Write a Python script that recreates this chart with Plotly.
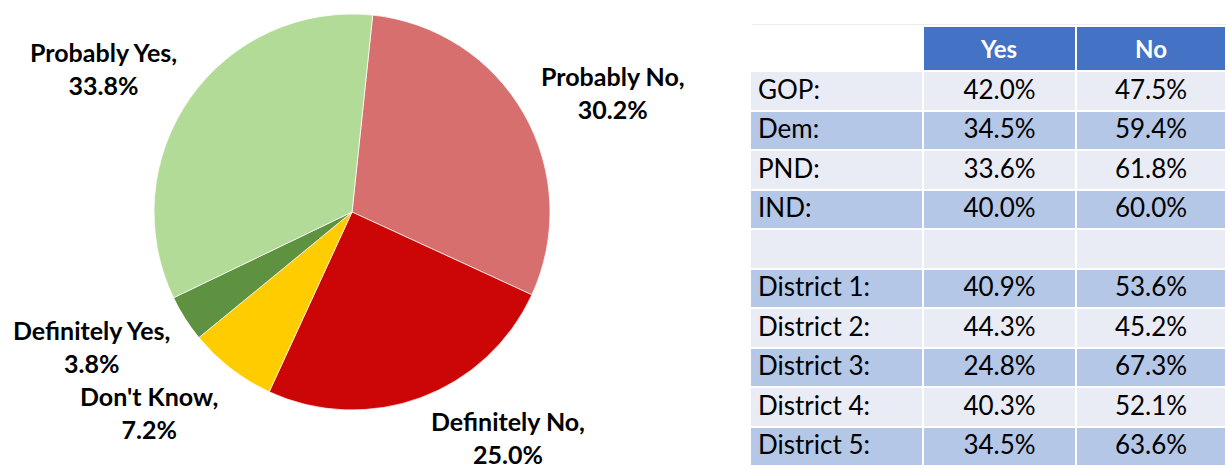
import plotly.graph_objects as go

# ---- data ----
pie_labels = ["Probably No", "Definitely No", "Don't Know", "Definitely Yes", "Probably Yes"]
pie_values = [30.2, 25.0, 7.2, 3.8, 33.8]

row_labels = ["GOP:", "Dem:", "PND:", "IND:", "", "District 1:", "District 2:",
              "District 3:", "District 4:", "District 5:"]
yes_values = [42.0, 34.5, 33.6, 40.0, None, 40.9, 44.3, 24.8, 40.3, 34.5]
no_values = [47.5, 59.4, 61.8, 60.0, None, 53.6, 45.2, 67.3, 52.1, 63.6]
col_headers = ["", "Yes", "No"]

# ---- styles ----
W, H = 1226, 469
pie_colors = ["#D86F6F", "#CC0606", "#FFCC00", "#5E9140", "#B3DB98"]
label_px = [(613, 92), (508, 437), (149, 412), (91, 346), (103, 68)]  # label centres (px)
light, mid = "#E9EBF5", "#B4C7E7"
row_fill = [light if i % 2 == 0 else mid for i in range(len(row_labels))]

def fmt(v):
    return "" if v is None else f"{v:.1f}%"

fig = go.Figure()
fig.add_trace(go.Pie(
    labels=pie_labels, values=pie_values, sort=False, direction="clockwise",
    rotation=6, textinfo="none", hoverinfo="label+percent",
    marker=dict(colors=pie_colors, line=dict(color="rgba(255,255,255,0.7)", width=1)),
    domain=dict(x=[154 / W, 550 / W], y=[1 - 410 / H, 1 - 14 / H]),
    showlegend=False,
))

fig.add_trace(go.Table(
    domain=dict(x=[750 / W, 1.0], y=[0.0, 1 - 26 / H]),
    columnwidth=[173, 153, 150],
    header=dict(
        values=[f"<b>{h}</b>" for h in col_headers],
        fill_color=["white", "#4472C4", "#4472C4"],
        line=dict(color="white", width=2),
        font=dict(family="Lato", size=24, color="white"),
        align="center", height=39.5,
    ),
    cells=dict(
        values=[row_labels, [fmt(v) for v in yes_values], [fmt(v) for v in no_values]],
        fill_color=[row_fill, row_fill, row_fill],
        line=dict(color="white", width=2),
        font=dict(family="Lato", size=26, color="black"),
        align=["left", "center", "center"], height=39.5,
    ),
))

for lab, val, (px, py) in zip(pie_labels, pie_values, label_px):
    fig.add_annotation(
        text=f"<b>{lab},<br>{val:.1f}%</b>", x=px / W, y=1 - py / H,
        xref="paper", yref="paper", xanchor="center", yanchor="middle",
        showarrow=False, font=dict(family="Lato", size=25, color="black"),
    )

fig.add_shape(type="rect", xref="paper", yref="paper",
              x0=752 / W, x1=1.01, y0=1 - 466 / H, y1=1 - 25 / H,
              line=dict(color="#D9D9D9", width=1), layer="below")

fig.update_layout(width=W, height=H, margin=dict(l=0, r=0, t=0, b=0),
                  paper_bgcolor="white", plot_bgcolor="white")
fig.write_html("out.html", config={"displayModeBar": False},
               post_script="document.body.style.margin='0';document.body.style.overflow='hidden';")
